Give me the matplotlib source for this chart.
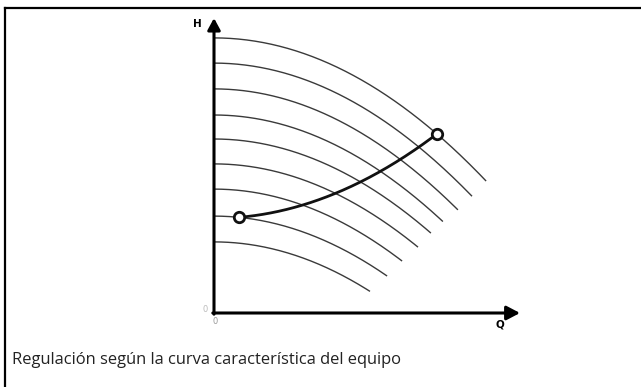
import matplotlib
matplotlib.use('Agg')
import matplotlib.pyplot as plt
from matplotlib.lines import Line2D
import numpy as np

# ---- curvas de la bomba (de abajo hacia arriba) ----
h_shutoff = [23.7, 32.3, 41.3, 49.7, 58.0, 66.0, 74.7, 83.3, 91.7]   # altura a caudal cero
q_end = [52.0, 57.7, 62.7, 68.0, 72.3, 76.3, 81.3, 86.0, 90.7]       # caudal donde termina cada curva
k_pump = [0.0061, 0.0060, 0.0061, 0.0060, 0.0060, 0.0061, 0.0061, 0.0060, 0.0058]

# ---- curva de regulación ----
q_low, q_high = 8.3, 74.3      # caudales de los dos puntos de trabajo
low_curve, high_curve = 1, 8   # curva en la que cae cada punto

caption = "Regulación según la curva característica del equipo"

W, H = 641, 387
fig = plt.figure(figsize=(W / 100, H / 100), dpi=100)
fig.patch.set_facecolor('white')

# eje de datos: 1 unidad = 3 px, origen en (214, 313) px
ax = fig.add_axes([0, 0, 1, 1])
ax.set_xlim(-214 / 3, (W - 214) / 3)
ax.set_ylim(-(H - 313) / 3, 313 / 3)
ax.axis('off')

def pump(i, q):
    return h_shutoff[i] - k_pump[i] * q ** 2

for i, qe in enumerate(q_end):
    q = np.linspace(0, qe, 200)
    ax.plot(q, pump(i, q), color='#3a3a3a', lw=1.0, solid_capstyle='butt')

# puntos de trabajo y curva cuadrática que los une
h_low = pump(low_curve, q_low)
h_high = pump(high_curve, q_high)
b = (h_high - h_low) / (q_high ** 2 - q_low ** 2)
a = h_low - b * q_low ** 2
qs = np.linspace(q_low, q_high, 200)
ax.plot(qs, a + b * qs ** 2, color='#111111', lw=2.0, zorder=3)
ax.plot([q_low, q_high], [h_low, h_high], 'o', ms=7.5, mfc='white',
        mec='#111111', mew=2.0, zorder=4)

# ejes con flecha
ax.annotate('', xy=(0, 98.3), xytext=(0, -0.4),
            arrowprops=dict(arrowstyle='-|>,head_length=0.7,head_width=0.38',
                            lw=2.2, color='black', shrinkA=0, shrinkB=0))
ax.annotate('', xy=(102, 0), xytext=(-0.4, 0),
            arrowprops=dict(arrowstyle='-|>,head_length=0.8,head_width=0.42',
                            lw=2.2, color='black', shrinkA=0, shrinkB=0))

ax.text(-5.7, 96.3, 'H', fontsize=7.5, fontweight='bold', ha='center', va='center')
ax.text(95.3, -3.8, 'Q', fontsize=7.5, fontweight='bold', ha='center', va='center')
ax.text(0.3, -3, '0', fontsize=6, color='#999999', ha='center', va='center')
ax.text(-3, 1, '0', fontsize=6, color='#bbbbbb', ha='center', va='center')

# marco superior e izquierdo
fig.add_artist(Line2D([5 / W, 1], [1 - 8 / H, 1 - 8 / H], color='black', lw=1.6))
fig.add_artist(Line2D([5 / W, 5 / W], [0, 1 - 8 / H], color='black', lw=1.6))

fig.text(12 / W, 1 - 360 / H, caption, fontsize=11.9, family='Open Sans',
         color='#222222', ha='left', va='center')

fig.savefig('out.png', dpi=100, facecolor='white')
